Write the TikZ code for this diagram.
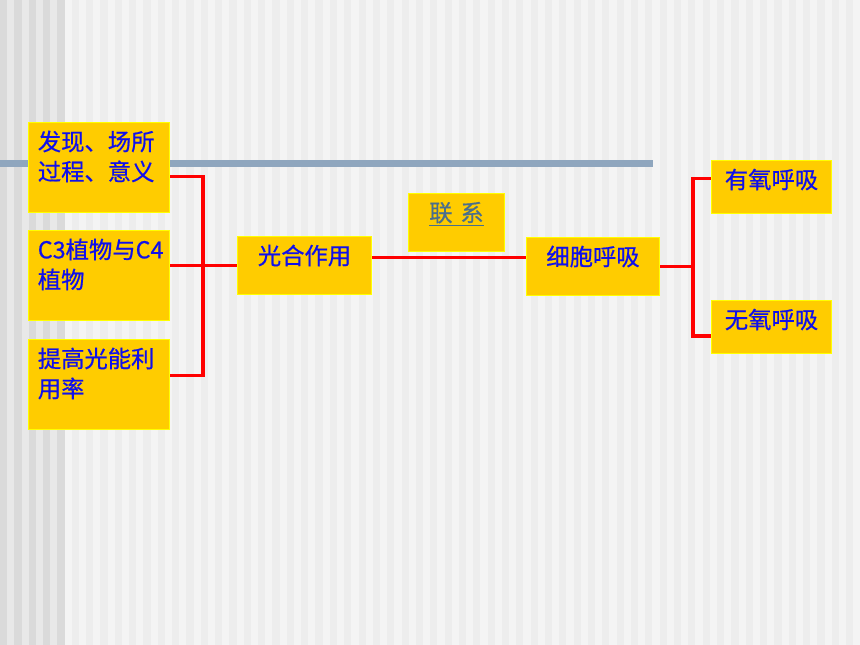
\documentclass[tikz,border=0pt]{standalone}
\usepackage{fontspec}
\newfontfamily\cjk{Noto Sans CJK SC}[FakeBold=0.6]
\definecolor{boxfill}{RGB}{255,204,0}
\definecolor{boxline}{RGB}{255,255,0}
\definecolor{txtblue}{RGB}{16,16,235}
\definecolor{linkgray}{RGB}{74,110,140}
\definecolor{wirered}{RGB}{255,0,0}
\definecolor{barblue}{RGB}{143,166,190}
\definecolor{stripeA}{RGB}{232,232,232}
\definecolor{stripeB}{RGB}{218,218,218}
\definecolor{stripeC}{RGB}{244,244,244}
\definecolor{stripeD}{RGB}{237,237,237}
\tikzset{
  box/.style={fill=boxfill, draw=boxline, line width=0.75pt, text=txtblue,
    anchor=north west, inner xsep=7pt, inner ysep=4pt, text height=16.9pt,
    font=\cjk\fontsize{17.5}{22.5}\selectfont},
  leaf/.style={box, align=left, text width=91.75pt, text depth=42.6pt},
  hub/.style={box, align=center, text depth=#1},
  wire/.style={draw=wirered, line width=2.4pt}
}

\begin{document}
\begin{tikzpicture}[x=0.75pt,y=-0.75pt]
\newcommand{\sw}{7.17}
\newcommand{\hgt}{645}
\useasboundingbox (0,0) rectangle (860,\hgt);

\fill[stripeA] (0,0) rectangle (64.5,\hgt);
\fill[stripeC] (64.5,0) rectangle (860,\hgt);
\foreach \k in {0,2,...,8} \fill[stripeB] (\k*\sw,0) rectangle ++(\sw,\hgt);
\foreach \k in {10,12,...,120} \fill[stripeD] (\k*\sw,0) rectangle ++(\sw,\hgt);
\fill[barblue] (0,160) rectangle (653,167);

\node[leaf] (find) at (28,122) {发现、场所\\过程、意义};
\node[leaf] (c3c4) at (28,230) {C3植物与C4\\植物};
\node[leaf] (raise) at (28,339) {提高光能利\\用率};
\node[hub=18.6pt, text width=86.5pt] (photo) at (237,236) {光合作用};
\node[hub=18.6pt, text width=58pt, text=linkgray] (link) at (408,193) {\underline{联 系}};
\node[hub=18.6pt, text width=85.75pt] (resp) at (526,237) {细胞呼吸};
\node[hub=14.85pt, text width=76pt] (aero) at (711,160) {有氧呼吸};
\node[hub=14.85pt, text width=76pt] (anaero) at (711,300) {无氧呼吸};

\coordinate (lbus) at (203,266);
\coordinate (rbus) at (693,266);
\draw[wire] ([yshift=-6.75pt]find.east) -| (lbus) |- ([yshift=7pt]raise.east);
\draw[wire] (c3c4.east |- photo.west) -- (photo.west);
\draw[wire] ([yshift=6pt]photo.east) -- ([yshift=6pt]photo.east -| resp.west);
\draw[wire] (resp.east) -- (resp.east -| rbus);
\draw[wire] ([yshift=6.4pt]aero.west) -| (rbus) |- ([yshift=-6.75pt]anaero.west);
\end{tikzpicture}
\end{document}
